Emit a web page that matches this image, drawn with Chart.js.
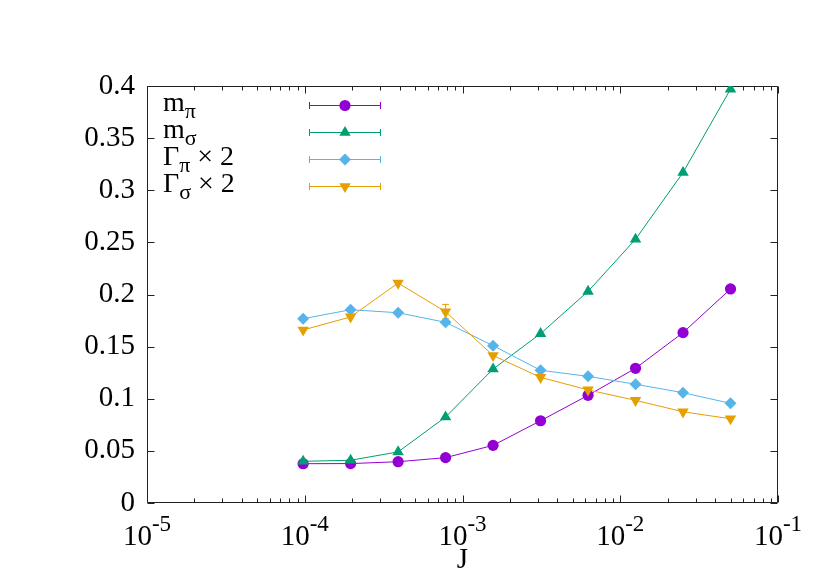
<!DOCTYPE html>
<html>
<head>
<meta charset="utf-8">
<script src="https://cdn.jsdelivr.net/npm/chart.js@4.4.1/dist/chart.umd.min.js"></script>
<style>
html,body{margin:0;padding:0;background:#fff;}
#wrap{position:relative;width:830px;height:581px;overflow:hidden;background:#fff;}
#c{position:absolute;left:0;top:0;}
.lbl{position:absolute;font-family:'Liberation Serif','Times New Roman',serif;font-size:29px;line-height:29px;color:#000;white-space:nowrap;}
.leg{font-size:28px;line-height:28px;}
.sup{font-size:23px;position:relative;top:-14px;}
.sub{font-size:22px;position:relative;top:7px;}
</style>
</head>
<body>
<div id="wrap"><canvas id="c" width="830" height="581"></canvas><div id="ov"></div></div>
<script>
// ---- data ----
const J = [9.765625e-5, 1.953125e-4, 3.90625e-4, 7.8125e-4, 1.5625e-3, 3.125e-3, 6.25e-3, 1.25e-2, 2.5e-2, 5e-2];
const mPi = [0.0377, 0.0378, 0.0396, 0.0435, 0.0553, 0.0789, 0.1033, 0.1292, 0.1634, 0.2053];
const mSigma = [0.0400, 0.0410, 0.0490, 0.0825, 0.1285, 0.1625, 0.2030, 0.2530, 0.3170, 0.3970];
const gammaPi2 = [0.1768, 0.1854, 0.1825, 0.1733, 0.1509, 0.1273, 0.1215, 0.1139, 0.1058, 0.0956];
const gammaSigma2 = [0.1660, 0.1785, 0.2110, 0.1835, 0.1415, 0.1205, 0.1085, 0.0985, 0.0875, 0.0808];
const errSigma2 = [0, 0, 0, 0.007, 0, 0, 0, 0, 0, 0];
const errZero = [0, 0, 0, 0, 0, 0, 0, 0, 0, 0];
const seriesBase = ['m', 'm', 'Γ', 'Γ'];
const seriesSub = ['π', 'σ', 'π', 'σ'];
const seriesSuffix = ['', '', ' × 2', ' × 2'];
const xTickExps = [-5, -4, -3, -2, -1];
const yTicks = [0, 0.05, 0.1, 0.15, 0.2, 0.25, 0.3, 0.35, 0.4];
const xTitle = 'J';

// ---- styles ----
const FONT = "'Liberation Serif','Times New Roman',serif";
const colors = ['#9400d3', '#009e73', '#56b4e9', '#e69f00'];
const marks = [
  {style: 'circle', r: 5.6, rot: 0},
  {style: 'triangle', r: 6.6, rot: 0},
  {style: 'rectRot', r: 6.0, rot: 0},
  {style: 'triangle', r: 6.6, rot: 180}
];
const values = [mPi, mSigma, gammaPi2, gammaSigma2];
const errors = [errZero, errZero, errZero, errSigma2];

const datasets = values.map((vals, i) => ({
  label: seriesBase[i] + seriesSub[i] + seriesSuffix[i],
  data: J.map((x, k) => ({x: x, y: vals[k]})),
  borderColor: colors[i],
  backgroundColor: colors[i],
  borderWidth: 1,
  pointStyle: marks[i].style,
  pointRotation: marks[i].rot,
  pointRadius: marks[i].r,
  pointBorderWidth: 0,
  pointHoverRadius: marks[i].r,
  tension: 0,
  fill: false,
  order: 4 - i,
  errors: errors[i]
}));

function drawMarker(ctx, style, r, rot, x, y, color) {
  ctx.save();
  ctx.fillStyle = color;
  ctx.beginPath();
  if (style === 'circle') {
    ctx.arc(x, y, r, 0, Math.PI * 2);
  } else if (style === 'rectRot') {
    ctx.moveTo(x - r, y); ctx.lineTo(x, y - r); ctx.lineTo(x + r, y); ctx.lineTo(x, y + r);
  } else {
    let a = rot * Math.PI / 180;
    for (let k = 0; k < 3; k++) {
      const px = x + Math.sin(a) * r, py = y - Math.cos(a) * r;
      if (k === 0) ctx.moveTo(px, py); else ctx.lineTo(px, py);
      a += 2 * Math.PI / 3;
    }
  }
  ctx.closePath();
  ctx.fill();
  ctx.restore();
}

const framePlugin = {
  id: 'frame',
  beforeDatasetsDraw(chart) {
    const {ctx, chartArea: a, scales: {x, y}} = chart;
    ctx.save();
    ctx.strokeStyle = '#222';
    ctx.lineWidth = 1;
    const L = Math.round(a.left) + 0.5, R = Math.round(a.right) - 0.5;
    const T = Math.round(a.top) + 0.5, B = Math.round(a.bottom) - 0.5;
    ctx.beginPath();
    ctx.rect(L, T, R - L, B - T);
    yTicks.forEach(v => {
      const py = Math.round(y.getPixelForValue(v)) + 0.5;
      ctx.moveTo(L, py); ctx.lineTo(L + 7, py);
      ctx.moveTo(R, py); ctx.lineTo(R - 7, py);
    });
    xTickExps.forEach((e, idx) => {
      const px = Math.round(x.getPixelForValue(Math.pow(10, e))) + 0.5;
      ctx.moveTo(px, B); ctx.lineTo(px, B - 7);
      ctx.moveTo(px, T); ctx.lineTo(px, T + 7);
      if (idx < xTickExps.length - 1) {
        for (let m = 2; m <= 9; m++) {
          const q = Math.round(x.getPixelForValue(m * Math.pow(10, e))) + 0.5;
          ctx.moveTo(q, B); ctx.lineTo(q, B - 4);
          ctx.moveTo(q, T); ctx.lineTo(q, T + 4);
        }
      }
    });
    ctx.stroke();
    chart.data.datasets.forEach((ds) => {
      ctx.strokeStyle = ds.borderColor;
      ctx.beginPath();
      ds.data.forEach((p, k) => {
        const e = ds.errors[k];
        if (!e) return;
        const px = x.getPixelForValue(p.x);
        const y1 = y.getPixelForValue(p.y + e), y2 = y.getPixelForValue(p.y - e);
        ctx.moveTo(px, y1); ctx.lineTo(px, y2);
        ctx.moveTo(px - 3.5, y1); ctx.lineTo(px + 3.5, y1);
        ctx.moveTo(px - 3.5, y2); ctx.lineTo(px + 3.5, y2);
      });
      ctx.stroke();
    });
    ctx.restore();
  },
  afterDraw(chart) {
    const ctx = chart.ctx;
    ctx.save();
    ctx.lineWidth = 1;
    for (let i = 0; i < 4; i++) {
      const ly = 105.5 + i * 27;
      ctx.strokeStyle = colors[i];
      ctx.beginPath();
      ctx.moveTo(309.5, ly); ctx.lineTo(380.5, ly);
      ctx.moveTo(309.5, ly - 3.5); ctx.lineTo(309.5, ly + 3.5);
      ctx.moveTo(380.5, ly - 3.5); ctx.lineTo(380.5, ly + 3.5);
      ctx.stroke();
      drawMarker(ctx, marks[i].style, marks[i].r, marks[i].rot, 345, ly, colors[i]);
    }
    ctx.restore();
  }
};

const chart = new Chart(document.getElementById('c'), {
  type: 'line',
  data: {datasets: datasets},
  options: {
    responsive: false,
    animation: false,
    events: [],
    layout: {padding: {top: 86, right: 52, left: 0, bottom: 0}},
    plugins: {legend: {display: false}, tooltip: {enabled: false}},
    scales: {
      x: {
        type: 'logarithmic', min: 1e-5, max: 1e-1,
        grid: {display: false, drawTicks: false},
        border: {display: false},
        ticks: {display: false},
        title: {display: true, text: xTitle, color: '#000', font: {family: FONT, size: 29}, padding: {top: 0, bottom: 3}},
        afterFit: s => { s.height = 78; }
      },
      y: {
        min: 0, max: 0.4,
        grid: {display: false, drawTicks: false},
        border: {display: false},
        afterBuildTicks: s => { s.ticks = yTicks.map(v => ({value: v})); },
        ticks: {color: '#000', font: {family: FONT, size: 29}, padding: 12,
                callback: v => String(+v.toFixed(2))},
        afterFit: s => { s.width = 147; }
      }
    }
  },
  plugins: [framePlugin]
});

// ---- text overlays ----
const ov = document.getElementById('ov');
xTickExps.forEach(e => {
  const d = document.createElement('div');
  d.className = 'lbl';
  d.style.left = chart.scales.x.getPixelForValue(Math.pow(10, e)) + 'px';
  d.style.top = '520.7px';
  d.style.transform = 'translateX(-50%)';
  d.innerHTML = '10<span class="sup">' + String(e) + '</span>';
  ov.appendChild(d);
});
for (let i = 0; i < 4; i++) {
  const d = document.createElement('div');
  d.className = 'lbl leg';
  d.style.left = '163px';
  d.style.top = (111.7 - 23.45 + i * 27) + 'px';
  d.innerHTML = seriesBase[i] + '<span class="sub">' + seriesSub[i] + '</span>' + seriesSuffix[i].replace(/ /g, '&nbsp;');
  ov.appendChild(d);
}
</script>
</body>
</html>
